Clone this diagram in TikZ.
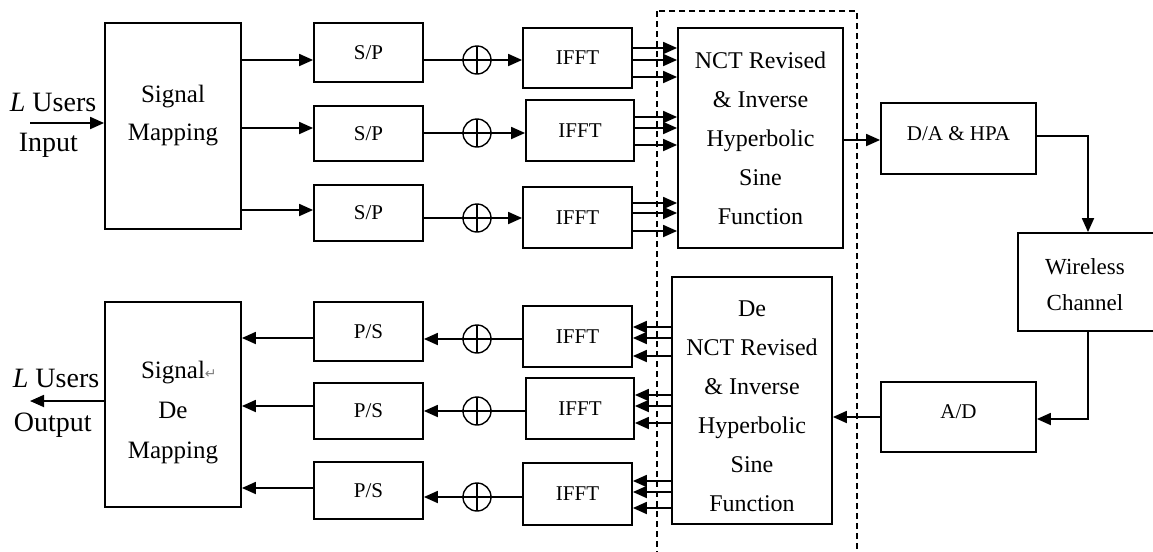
\documentclass[tikz,border=0pt]{standalone}
\usepackage{fontspec}
\setmainfont{Liberation Serif}
\newfontfamily\markfont{DejaVu Sans}
\usepackage{tikz}
\usetikzlibrary{arrows.meta}

\begin{document}
\begin{tikzpicture}[x=0.5pt,y=-0.5pt,line width=0.9pt,
  >={Triangle[length=7pt,width=6pt]},
  blk/.style={draw,inner sep=0pt,align=center,font=\fontsize{10.5}{12}\selectfont},
  txt/.style={align=center,inner sep=0pt},
  adder/.style={circle,draw,line width=0.7pt,minimum size=14pt,inner sep=0pt,
    path picture={\draw[line width=0.7pt] (path picture bounding box.north) -- (path picture bounding box.south);}},
  lbl/.style={anchor=west,inner sep=0pt,font=\fontsize{14}{16}\selectfont}]
\useasboundingbox (0,0) rectangle (1153,552);
\clip (0,0) rectangle (1153,552);

% transmitter side
\node[blk,minimum width=68pt,minimum height=103pt] (sm) at (173,126) {};
\node[txt,font=\fontsize{12.5}{19}\selectfont] (smT) at (173,116) {Signal\\Mapping};
\node[blk,minimum width=54.5pt,minimum height=29.5pt] (sp1) at (368.5,52.5) {S/P};
\node[blk,minimum width=54.5pt,minimum height=27.5pt] (sp2) at (368.5,133.5) {S/P};
\node[blk,minimum width=54.5pt,minimum height=28pt] (sp3) at (368.5,213) {S/P};
\node[adder] (add1) at (477,60) {};
\node[adder] (add2) at (477,133) {};
\node[adder] (add3) at (477,218) {};
\node[blk,minimum width=54.5pt,minimum height=30pt] (fft1) at (577.5,58) {IFFT};
\node[blk,minimum width=54pt,minimum height=30.5pt] (fft2) at (580,130.5) {IFFT};
\node[blk,minimum width=54.5pt,minimum height=30.5pt] (fft3) at (577.5,217.5) {IFFT};
\node[blk,minimum width=82.5pt,minimum height=110pt,font=\fontsize{12}{19.5}\selectfont] (nct) at (760.5,138)
  {NCT Revised\\\& Inverse\\Hyperbolic\\Sine\\Function};
\node[blk,minimum width=77.5pt,minimum height=35.5pt] (da) at (958.5,138.5) {};
\node[txt,font=\fontsize{10.5}{12}\selectfont] (daT) at (958.5,134) {D/A \& HPA};

% channel
\node[blk,minimum width=70pt,minimum height=49pt] (wc) at (1088,282) {};
\node[txt,font=\fontsize{11.5}{18}\selectfont] (wcT) at (1085,285) {Wireless\\Channel};

% receiver side
\node[blk,minimum width=77.5pt,minimum height=35pt] (ad) at (958.5,417) {};
\node[txt,font=\fontsize{10.5}{12}\selectfont] (adT) at (958.5,412) {A/D};
\node[blk,minimum width=80pt,minimum height=123.5pt] (dnct) at (752,400.5) {};
\node[txt,font=\fontsize{12}{19.5}\selectfont] (dnctT) at (752,406.5)
  {De\\NCT Revised\\\& Inverse\\Hyperbolic\\Sine\\Function};
\node[blk,minimum width=54.5pt,minimum height=30.5pt] (lf1) at (577.5,336.5) {IFFT};
\node[blk,minimum width=54pt,minimum height=30.5pt] (lf2) at (580,408.5) {IFFT};
\node[blk,minimum width=54.5pt,minimum height=31pt] (lf3) at (577.5,494) {IFFT};
\node[adder] (ladd1) at (477,339) {};
\node[adder] (ladd2) at (477,411) {};
\node[adder] (ladd3) at (477,497) {};
\node[blk,minimum width=54.5pt,minimum height=29.5pt] (ps1) at (368.5,331.5) {P/S};
\node[blk,minimum width=54.5pt,minimum height=28pt] (ps2) at (368.5,411) {P/S};
\node[blk,minimum width=54.5pt,minimum height=28.5pt] (ps3) at (368.5,490.5) {P/S};
\node[blk,minimum width=68pt,minimum height=102.5pt] (sdm) at (173,404.5) {};
\node[txt,font=\fontsize{12.5}{20}\selectfont] (sdmT) at (173,413)
  {Signal\rlap{\color{gray}\markfont\fontsize{7}{8}\selectfont ↵}\\De\\Mapping};

% user labels
\node[lbl] (uinL) at (9,102) {\textit{L} Users};
\node[lbl] (uinT) at (18,145) {Input};
\node[lbl] (uoutL) at (12,378) {\textit{L} Users};
\node[lbl] (uoutT) at (13,425) {Output};
\coordinate (uin) at (30,123);
\coordinate (uout) at (30,401);

% dashed frame round the transform blocks
\draw[dash pattern=on 3pt off 2pt,line width=0.7pt] (657,11) rectangle (857,560);

% connectors, transmitter
\draw[->] (uin) -- (uin -| sm.west);
\foreach \i/\y in {1/60,2/128,3/210}
  \draw[->] (sm.east |- 0,\y) -- (sp\i.west |- 0,\y);
\foreach \i in {1,2,3}
  \draw[->] (sp\i.east |- add\i) -- (add\i.center) -- (add\i -| fft\i.west);
\foreach \i/\ys in {1/{48,60,77},2/{117,128,145},3/{203,213,231}}
  \foreach \y in \ys
    \draw[->] (fft\i.east |- 0,\y) -- (nct.west |- 0,\y);
\draw[->] (nct.east |- 0,140) -- (da.west |- 0,140);
\draw[->] (da.east |- 0,136) -| (wc.north);

% connectors, receiver
\draw[->] (wc.south) |- (ad.east |- 0,419);
\draw[->] (ad.west |- 0,417) -- (dnct.east |- 0,417);
\foreach \i/\ys in {1/{327,338,356},2/{395,406,423},3/{481,492,508}}
  \foreach \y in \ys
    \draw[->] (dnct.west |- 0,\y) -- (lf\i.east |- 0,\y);
\foreach \i in {1,2,3}
  \draw[->] (lf\i.west |- ladd\i) -- (ladd\i.center) -- (ladd\i -| ps\i.east);
\foreach \i/\y in {1/338,2/406,3/488}
  \draw[->] (ps\i.west |- 0,\y) -- (sdm.east |- 0,\y);
\draw[->] (sdm.west |- uout) -- (uout);
\end{tikzpicture}
\end{document}
